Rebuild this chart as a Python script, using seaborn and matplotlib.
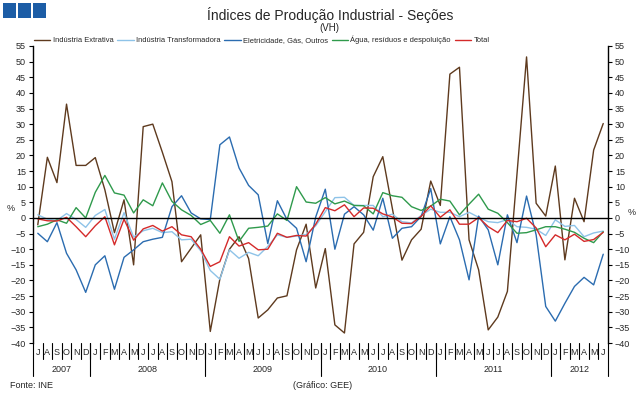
import pandas as pd
import matplotlib
matplotlib.use("Agg")
import matplotlib.pyplot as plt
from matplotlib.lines import Line2D
from matplotlib.patches import Rectangle
import seaborn as sns

# meses jul/2007 - jun/2012
meses = ["J", "A", "S", "O", "N", "D"] + \
        ["J", "F", "M", "A", "M", "J", "J", "A", "S", "O", "N", "D"] * 4 + \
        ["J", "F", "M", "A", "M", "J"]
anos = ["2007", "2008", "2009", "2010", "2011", "2012"]
meses_por_ano = [6, 12, 12, 12, 12, 6]

extrativa = [-2.2, 19.4, 11.3, 36.4, 16.8, 16.8, 19.3, 9.0, -4.7, 5.8,
             -15.0, 29.2, 30.0, 21.0, 11.6, -14.0, -9.7, -5.4, -36.3, -19.5,
             -10.0, -6.0, -13.0, -32.0, -29.4, -25.6, -24.9, -10.2, -2.0, -22.4,
             -9.8, -34.2, -36.8, -8.3, -4.6, 13.2, 19.6, 3.0, -13.5, -7.0,
             -3.6, 11.8, 4.0, 46.0, 48.2, -7.0, -16.6, -35.8, -31.7, -23.5,
             14.0, 51.5, 4.7, 0.6, 16.6, -13.4, 6.3, -1.2, 21.7, 30.2]
transformadora = [1.0, -0.4, -0.8, 1.4, -0.5, -3.0, 0.8, 2.7, -6.8, 1.7,
                  -6.1, -4.1, -3.3, -4.7, -4.4, -7.0, -6.8, -10.5, -16.8, -19.6,
                  -10.2, -12.9, -11.0, -12.1, -9.1, -5.4, -6.2, -5.8, -5.3, -2.5,
                  2.0, 6.5, 6.6, 4.0, 4.0, 4.0, 0.4, 1.2, -1.2, -1.6,
                  0.8, 2.8, 1.8, 1.8, 0.4, 1.8, 0.2, -1.2, -1.5, -0.5,
                  -2.8, -3.0, -3.6, -5.6, -0.6, -2.7, -2.4, -6.0, -4.8, -4.2]
eletricidade = [-4.9, -7.6, -1.5, -11.3, -16.6, -23.8, -15.0, -12.1, -22.8, -12.6,
                -10.2, -7.6, -6.8, -6.2, 3.6, 7.1, 1.6, -0.3, -0.5, 23.4,
                25.9, 16.0, 10.4, 7.4, -8.2, 5.5, -0.5, -3.3, -14.0, 0.3,
                9.2, -10.0, 1.2, 3.6, 1.0, -3.9, 6.3, -6.5, -3.3, -2.8,
                0.5, 9.4, -8.3, 0.4, -7.0, -19.8, 0.6, -3.8, -15.0, 1.0,
                -7.9, 7.0, -5.4, -28.3, -33.0, -27.3, -21.9, -19.0, -21.4, -11.6]
agua = [-2.8, -2.0, -0.6, -1.7, 3.3, 0.0, 8.2, 13.6, 8.0, 7.3,
        1.6, 5.8, 3.9, 11.2, 5.3, 2.6, 0.8, -2.1, -0.8, -4.9,
        1.0, -7.5, -3.3, -3.0, -2.6, 1.3, -0.8, 10.0, 5.1, 4.7,
        6.5, 4.5, 5.4, 4.0, 3.9, 1.3, 8.1, 7.1, 6.6, 3.6,
        2.4, 3.8, 6.0, 5.4, 1.0, 4.4, 7.6, 2.8, 1.5, -1.5,
        -4.9, -4.7, -3.8, -2.8, -2.8, -3.6, -4.6, -6.5, -7.9, -4.4]
total = [-0.3, -0.9, -1.0, 0.2, -2.8, -6.0, -2.5, 0.4, -8.6, -0.4,
         -7.1, -3.5, -2.4, -4.2, -2.8, -5.4, -6.0, -10.0, -15.5, -14.0,
         -6.0, -9.0, -7.9, -10.2, -10.0, -4.9, -6.2, -5.6, -5.8, -2.0,
         3.3, 2.3, 4.2, 0.4, 3.2, 3.1, 1.3, 0.3, -1.7, -1.8,
         0.5, 3.9, 0.2, 2.6, -2.0, -2.0, 0.1, -2.8, -4.7, -0.8,
         -1.2, -0.1, -3.2, -9.2, -5.4, -7.0, -5.2, -7.5, -6.9, -4.6]

nomes = ["Indústria Extrativa", "Indústria Transformadora", "Eletricidade, Gás, Outros",
         "Água, resíduos e despoluição", "Total"]
cores = {"Indústria Extrativa": "#5e3a1e",
         "Indústria Transformadora": "#8ec3e8",
         "Eletricidade, Gás, Outros": "#2b6cb0",
         "Água, resíduos e despoluição": "#2f9a4c",
         "Total": "#d42a2a"}

df = pd.DataFrame({"mes": range(len(meses)),
                   nomes[0]: extrativa, nomes[1]: transformadora, nomes[2]: eletricidade,
                   nomes[3]: agua, nomes[4]: total})
df = df.melt(id_vars="mes", var_name="serie", value_name="valor")

sns.set_theme(style="white")
plt.rcParams["font.family"] = ["Liberation Sans", "DejaVu Sans"]

fig = plt.figure(figsize=(6.43, 3.95), dpi=100)
ax = fig.add_axes([0.0513, 0.1316, 0.8943, 0.752])
sns.lineplot(data=df, x="mes", y="valor", hue="serie", hue_order=nomes, palette=cores,
             linewidth=1.0, ax=ax, legend=False)

ax.set_xlim(-0.5, len(meses) - 0.5)
ax.set_ylim(-40, 55)
ax.set_yticks(range(-40, 56, 5))
ax.set_xlabel("")
ax.set_ylabel("")

# eixo horizontal no zero, com tracinhos entre meses
ax.spines["top"].set_visible(False)
ax.spines["bottom"].set_position(("data", 0))
for s in ["left", "right", "bottom"]:
    ax.spines[s].set_color("black")
    ax.spines[s].set_linewidth(1.0)
ax.set_xticks([i - 0.5 for i in range(1, len(meses))])
ax.tick_params(axis="x", direction="out", length=3, width=0.8, color="black", labelbottom=False)
ax.tick_params(axis="y", direction="out", length=3, width=0.8, color="black",
               left=True, right=True, labelleft=True, labelright=True, labelsize=6.5, pad=2)

# rótulos de meses e anos
tr = ax.get_xaxis_transform()
for i, m in enumerate(meses):
    ax.text(i, -0.032, m, transform=tr, ha="center", va="center", fontsize=6.5)
    if i > 0:
        ax.plot([i - 0.5, i - 0.5], [0, -0.055], transform=tr, color="black", lw=0.8, clip_on=False)
inicio = 0
for ano, n in zip(anos, meses_por_ano):
    ax.text(inicio + n / 2 - 0.5, -0.09, ano, transform=tr, ha="center", va="center", fontsize=6.5)
    ax.plot([inicio - 0.5, inicio - 0.5], [0, -0.11], transform=tr, color="black", lw=0.8, clip_on=False)
    inicio += n
ax.plot([inicio - 0.5, inicio - 0.5], [0, -0.11], transform=tr, color="black", lw=0.8, clip_on=False)

# legenda
handles = [Line2D([0], [0], color=cores[n], lw=1.0) for n in nomes]
fig.legend(handles, nomes, loc="center", bbox_to_anchor=(0.407, 0.899), ncol=5, frameon=False,
           fontsize=5.4, handlelength=2.2, handletextpad=0.3, columnspacing=0.5, borderpad=0)

fig.text(0.513, 0.963, "Índices de Produção Industrial - Seções", ha="center", va="center", fontsize=10)
fig.text(0.513, 0.93, "(VH)", ha="center", va="center", fontsize=7)
fig.text(0.016, 0.473, "%", ha="center", va="center", fontsize=6.5)
fig.text(0.983, 0.463, "%", ha="center", va="center", fontsize=6.5)
fig.text(0.016, 0.025, "Fonte: INE", ha="left", va="center", fontsize=6.5)
fig.text(0.456, 0.025, "(Gráfico: GEE)", ha="left", va="center", fontsize=6.5)

# quadradinhos azuis do canto
for k in range(3):
    fig.patches.append(Rectangle(((3 + 15 * k) / 643, 1 - 18 / 395), 13 / 643, 15 / 395,
                                 transform=fig.transFigure, facecolor="#1c5da6", linewidth=0))

fig.savefig("out.png", dpi=100)
